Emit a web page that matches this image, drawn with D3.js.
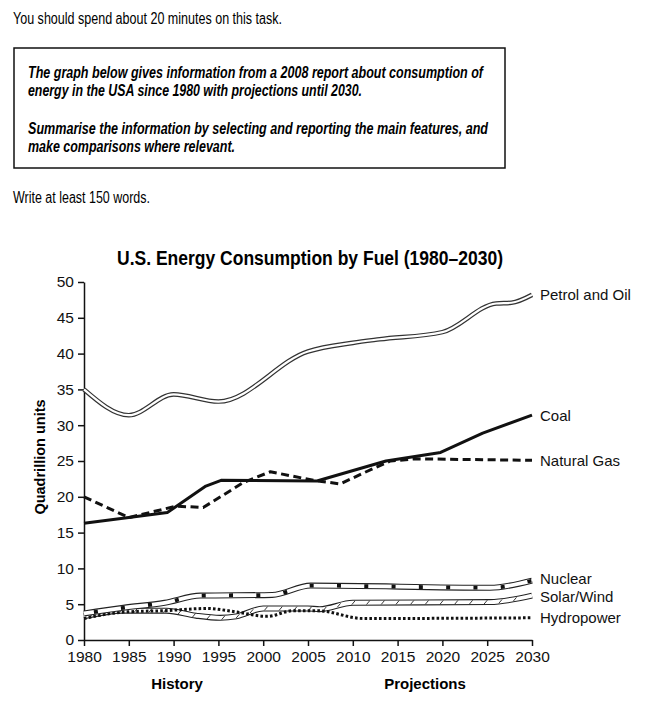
<!DOCTYPE html>
<html>
<head>
<meta charset="utf-8">
<script src="https://cdn.jsdelivr.net/npm/d3@7"></script>
<style>
  body { margin: 0; background: #fff; }
  svg { display: block; font-family: "Liberation Sans", Arial, sans-serif; }
</style>
</head>
<body>
<svg id="chart"></svg>
<script>
// Data: [year, quadrillion units]
const petrol  = [[1980,35],[1985,31.4],[1990,34.3],[1995,33.3],[2005,40.3],[2010,41.5],[2013,42],[2020,43],[2026,47],[2027.7,47.1],[2030,48.2]];
const coal    = [[1980,16.3],[1985,17.1],[1989.3,17.8],[1993.6,21.5],[1995.3,22.3],[2006,22.2],[2013.7,25],[2019.8,26.2],[2024.5,28.9],[2030,31.4]];
const gas     = [[1980,20],[1985,17.1],[1990.3,18.7],[1993.3,18.5],[1997.8,22],[2000.8,23.5],[2005.6,22.3],[2008.6,21.8],[2011.5,23.5],[2014.2,25],[2017,25.3],[2030,25.1]];
const nuclear = [[1980,3.7],[1984.4,4.5],[1989,5.2],[1993,6.2],[2001,6.3],[2005.3,7.6],[2025.3,7.3],[2030,8.3]];
const solar   = [[1980,3.3],[1984.4,4.1],[1989.2,4.1],[1992.5,3.4],[1995.2,3.1],[1997,3.3],[2000,4.4],[2005,4.4],[2006.3,4.3],[2010,5.2],[2025.3,5.3],[2030,6.2]];
const hydro   = [[1980,3],[1984.4,3.9],[1989,4.1],[1993.7,4.4],[1997.1,3.9],[2000.4,3.3],[2003.4,4.1],[2006,4.1],[2011.2,3],[2030,3.1]];

const xTicks = [1980,1985,1990,1995,2000,2005,2010,2015,2020,2025,2030];
const yTicks = [0,5,10,15,20,25,30,35,40,45,50];

const W = 665, H = 706;
const svg = d3.select("#chart").attr("width", W).attr("height", H);

// Task text above the chart (the scan uses a narrow Helvetica, so widths are fixed)
svg.append("text").attr("x", 13).attr("y", 24)
   .attr("font-size", 16).attr("textLength", 269).attr("lengthAdjust", "spacingAndGlyphs")
   .text("You should spend about 20 minutes on this task.");

svg.append("rect").attr("x", 14).attr("y", 48).attr("width", 491).attr("height", 120)
   .attr("fill", "none").attr("stroke", "#111").attr("stroke-width", 1.5);

const boxLines = [
  {t: "The graph below gives information from a 2008 report about consumption of", y: 78, w: 455},
  {t: "energy in the USA since 1980 with projections until 2030.", y: 96, w: 334},
  {t: "Summarise the information by selecting and reporting the main features, and", y: 134, w: 460},
  {t: "make comparisons where relevant.", y: 152, w: 207}
];
svg.selectAll(".task").data(boxLines).enter().append("text")
   .attr("class", "task")
   .attr("x", 28).attr("y", d => d.y)
   .attr("font-size", 16.5).attr("font-weight", "bold").attr("font-style", "italic")
   .attr("textLength", d => d.w).attr("lengthAdjust", "spacingAndGlyphs")
   .text(d => d.t);

svg.append("text").attr("x", 13).attr("y", 203)
   .attr("font-size", 16).attr("textLength", 137).attr("lengthAdjust", "spacingAndGlyphs")
   .text("Write at least 150 words.");

// Chart area
const x = d3.scaleLinear().domain([1980, 2030]).range([84, 532]);
const y = d3.scaleLinear().domain([0, 50]).range([640, 282]);

svg.append("text").attr("x", 310).attr("y", 265)
   .attr("text-anchor", "middle").attr("font-size", 20).attr("font-weight", "bold")
   .attr("textLength", 386).attr("lengthAdjust", "spacingAndGlyphs")
   .text("U.S. Energy Consumption by Fuel (1980\u20132030)");

const yAxis = svg.append("g").attr("transform", "translate(84,0)")
   .call(d3.axisLeft(y).tickValues(yTicks).tickSize(6).tickSizeOuter(0).tickPadding(4));
const xAxis = svg.append("g").attr("transform", "translate(0,640)")
   .call(d3.axisBottom(x).tickValues(xTicks).tickFormat(d3.format("d")).tickSize(6).tickSizeOuter(0).tickPadding(5));
[yAxis, xAxis].forEach(a => {
  a.selectAll("path, line").attr("stroke", "#111").attr("stroke-width", 1.5);
  a.selectAll("text").attr("font-size", 15.5).attr("fill", "#111")
   .attr("font-family", "'Liberation Sans', Arial, sans-serif");
});

svg.append("text").attr("transform", "translate(45,457) rotate(-90)")
   .attr("text-anchor", "middle").attr("font-size", 14.5).attr("font-weight", "bold")
   .text("Quadrillion units");
svg.append("text").attr("x", 177).attr("y", 689).attr("text-anchor", "middle")
   .attr("font-size", 15).attr("font-weight", "bold").text("History");
svg.append("text").attr("x", 425).attr("y", 689).attr("text-anchor", "middle")
   .attr("font-size", 15).attr("font-weight", "bold").text("Projections");

const smooth = d3.line().x(d => x(d[0])).y(d => y(d[1])).curve(d3.curveMonotoneX);
const plain = d3.line().x(d => x(d[0])).y(d => y(d[1]));
const plot = svg.append("g").attr("fill", "none");

function stroke(data, gen, color, width, dash) {
  const p = plot.append("path").attr("d", gen(data))
    .attr("stroke", color).attr("stroke-width", width)
    .attr("stroke-linejoin", "round");
  if (dash) p.attr("stroke-dasharray", dash);
  return p;
}

// Solar/Wind: double line with slanted hatches
stroke(solar, smooth, "#222", 6);
const solarInner = stroke(solar, smooth, "#fff", 3.8);
const len = solarInner.node().getTotalLength();
for (let s = 8; s < len - 4; s += 14.7) {
  const p = solarInner.node().getPointAtLength(s);
  plot.append("line").attr("x1", p.x - 1.6).attr("y1", p.y + 1.9)
      .attr("x2", p.x + 1.6).attr("y2", p.y - 1.9)
      .attr("stroke", "#222").attr("stroke-width", 0.9);
}

// Hydropower: dotted
stroke(hydro, smooth, "#111", 3, "2.6,2.2");

// Nuclear: double line with square markers
stroke(nuclear, smooth, "#222", 6);
stroke(nuclear, smooth, "#fff", 3.8);
stroke(nuclear, smooth, "#111", 3.8, "4,23.3").attr("stroke-dashoffset", -10);

// Natural gas: dashed
stroke(gas, plain, "#111", 3, "8,4.5");
// Coal: solid
stroke(coal, plain, "#111", 3);
// Petrol and Oil: double line
stroke(petrol, smooth, "#333", 4.6);
stroke(petrol, smooth, "#fff", 2.2);

// Series labels
const labels = [
  {name: "Petrol and Oil", data: petrol, dy: 0},
  {name: "Coal", data: coal, dy: 0},
  {name: "Natural Gas", data: gas, dy: 0},
  {name: "Nuclear", data: nuclear, dy: -1.5},
  {name: "Solar/Wind", data: solar, dy: 0.5},
  {name: "Hydropower", data: hydro, dy: 0}
];
svg.selectAll(".lbl").data(labels).enter().append("text")
   .attr("class", "lbl")
   .attr("x", 540)
   .attr("y", d => y(d.data[d.data.length - 1][1]) + d.dy)
   .attr("dy", "0.36em")
   .attr("font-size", 15).attr("fill", "#111")
   .text(d => d.name);
</script>
</body>
</html>
